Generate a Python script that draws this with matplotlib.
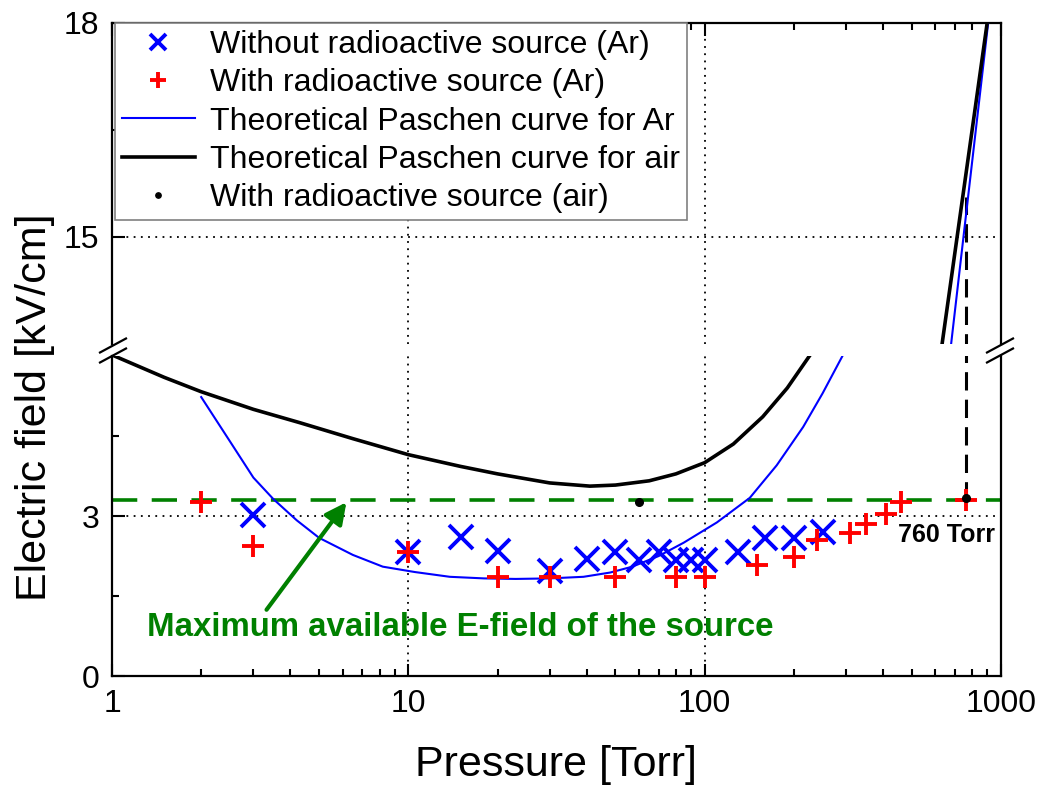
import matplotlib.pyplot as plt
from matplotlib.lines import Line2D
from matplotlib.ticker import LogLocator, NullFormatter, FixedLocator

plt.rcParams['font.family'] = ['Liberation Sans', 'DejaVu Sans']

# measured breakdown field, argon, without source
p_no_src = [3, 10, 15, 20, 30, 40, 50, 60, 70, 80, 90, 100, 130, 160, 200, 250]
e_no_src = [3.02, 2.33, 2.61, 2.35, 1.97, 2.2, 2.33, 2.18, 2.33, 2.18, 2.18, 2.18, 2.33, 2.59, 2.59, 2.7]

# measured breakdown field, argon, with source
p_src = [2, 3, 10, 20, 30, 50, 80, 100, 150, 200, 240, 310, 350, 410, 460, 760]
e_src = [3.26, 2.44, 2.33, 1.86, 1.86, 1.86, 1.86, 1.86, 2.08, 2.23, 2.55, 2.68, 2.85, 3.04, 3.26, 3.3]

# measured, air, with source
p_air_src = [60, 760]
e_air_src = [3.27, 3.33]

# theoretical Paschen curves (lower branch and upper branch)
p_ar_low = [2.0, 2.5, 3.0, 3.5, 4.2, 5.0, 6.5, 8.2, 10.5, 13.8, 18, 23, 30, 39, 48, 57,
            70, 85, 110, 142, 175, 215, 250, 293]
e_ar_low = [5.23, 4.4, 3.72, 3.32, 2.92, 2.59, 2.27, 2.05, 1.95, 1.86, 1.83, 1.82, 1.83,
            1.86, 1.94, 2.05, 2.25, 2.5, 2.88, 3.34, 3.95, 4.67, 5.3, 6.02]
p_ar_high = [679, 905]
e_ar_high = [13.5, 18.0]

p_air_low = [1, 1.5, 2, 3, 4.3, 6.5, 10, 15, 20, 30, 41, 50, 65, 80, 100, 125, 157, 190, 227]
e_air_low = [6.02, 5.6, 5.33, 5.0, 4.75, 4.45, 4.15, 3.93, 3.79, 3.62, 3.56, 3.58, 3.66,
             3.79, 4.0, 4.35, 4.86, 5.4, 6.02]
p_air_high = [633, 898]
e_air_high = [13.5, 18.0]

e_max_source = 3.3
p_atm = 760
e_air_atm = 15.55

W, H = 1043, 791
fig = plt.figure(figsize=(W / 100, H / 100), dpi=100)
ax_top = fig.add_axes([112 / W, 1 - 343.5 / H, 889 / W, 320.5 / H])
ax_bot = fig.add_axes([112 / W, 1 - 676 / H, 889 / W, 320 / H], sharex=ax_top)

green = '#008000'
for ax in (ax_top, ax_bot):
    ax.set_xscale('log')
    ax.plot(p_no_src, e_no_src, 'x', color='blue', ms=17, mew=2.8,
            label='Without radioactive source (Ar)', zorder=4)
    ax.plot(p_src, e_src, '+', color='red', ms=16, mew=2.8,
            label='With radioactive source (Ar)', zorder=4)
    ax.plot(p_ar_low, e_ar_low, color='blue', lw=1.5,
            label='Theoretical Paschen curve for Ar', zorder=3)
    ax.plot(p_ar_high, e_ar_high, color='blue', lw=1.5, zorder=3)
    ax.plot(p_air_low, e_air_low, color='black', lw=2.6,
            label='Theoretical Paschen curve for air', zorder=3)
    ax.plot(p_air_high, e_air_high, color='black', lw=2.6, zorder=3)
    ax.plot(p_air_src, e_air_src, 'o', color='black', ms=5.5,
            label='With radioactive source (air)', zorder=5)
    ax.axhline(e_max_source, color=green, lw=2.6, ls=(0, (7, 4)), zorder=2)
    ax.plot([p_atm, p_atm], [e_max_source, e_air_atm], color='black', lw=2.2,
            ls=(0, (6, 3)), zorder=2)
    ax.grid(which='major', color='black', ls=(0, (1, 3)), lw=1.3)
    ax.set_axisbelow(True)
    ax.set_xlim(1, 1000)
    ax.tick_params(which='both', direction='in', width=1.5, labelsize=23, pad=9)
    ax.tick_params(which='major', length=9)
    ax.tick_params(which='minor', length=5)
    ax.xaxis.set_major_locator(LogLocator(base=10, numticks=10))
    ax.xaxis.set_minor_locator(LogLocator(base=10, subs=range(2, 10), numticks=10))
    ax.xaxis.set_minor_formatter(NullFormatter())
    for s in ax.spines.values():
        s.set_linewidth(1.6)

ax_top.set_ylim(13.5, 18)
ax_top.set_yticks([15, 18])
ax_top.yaxis.set_minor_locator(FixedLocator([16.5]))
ax_top.spines['bottom'].set_visible(False)
ax_top.tick_params(which='both', bottom=False, labelbottom=False, top=True, right=False)

ax_bot.set_ylim(0, 6)
ax_bot.set_yticks([0, 3])
ax_bot.yaxis.set_minor_locator(FixedLocator([1.5, 4.5]))
ax_bot.spines['top'].set_visible(False)
ax_bot.tick_params(which='both', top=False, right=False)
ax_bot.set_xticks([1, 10, 100, 1000])
ax_bot.set_xticklabels(['1', '10', '100', '1000'])

leg = ax_top.legend(loc='upper left', bbox_to_anchor=(0.003, 1.0), borderaxespad=0,
                    fancybox=False, edgecolor='gray', framealpha=1, fontsize=23,
                    labelspacing=0.26, handlelength=2.3, handletextpad=0.45,
                    borderpad=0.22, markerscale=0.7)
leg.get_frame().set_linewidth(1.2)
leg.set_zorder(10)

ax_bot.annotate('', xy=(6.26, e_max_source), xytext=(3.28, 1.2),
                arrowprops=dict(arrowstyle='-|>', color=green, lw=3, mutation_scale=32))
ax_bot.text(15, 0.9, 'Maximum available E-field of the source', color=green,
            fontweight='bold', fontsize=23.8, ha='center', va='center')
ax_bot.text(653, 2.65, '760 Torr', fontweight='bold', fontsize=18, ha='center', va='center')

# axis break marks
def break_mark(xp, yp):
    for dy in (0, 10):
        fig.add_artist(Line2D([(xp - 13) / W, (xp + 13) / W],
                              [1 - (yp + dy + 7) / H, 1 - (yp + dy - 7) / H],
                              color='black', lw=1.6))

break_mark(113, 345.5)
break_mark(1000, 345.5)

fig.text(556 / W, 1 - 765 / H, 'Pressure [Torr]', fontsize=31, ha='center', va='center')
fig.text(35 / W, 1 - 407 / H, 'Electric field [kV/cm]', fontsize=31, ha='center',
         va='center', rotation=90)

fig.savefig('out.png', dpi=100)
